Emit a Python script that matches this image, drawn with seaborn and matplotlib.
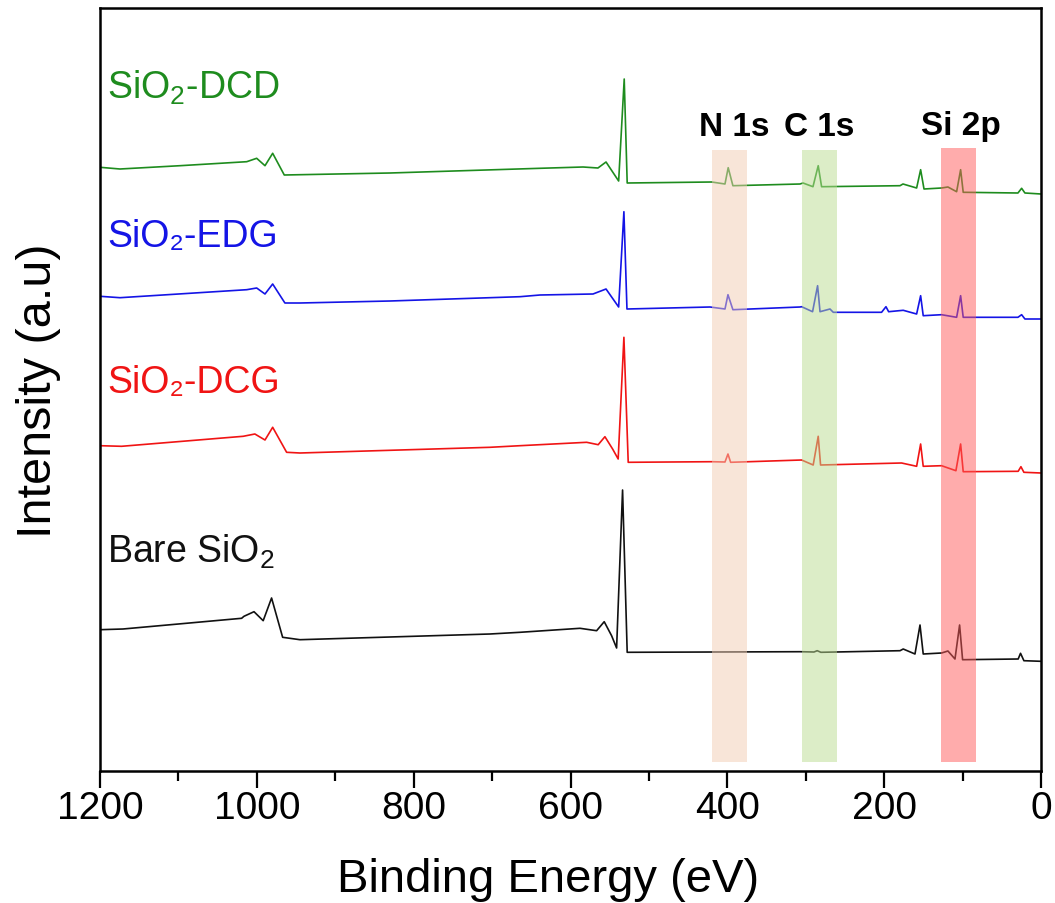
import numpy as np
import pandas as pd
import matplotlib
matplotlib.use("Agg")
import matplotlib.pyplot as plt
import seaborn as sns

# ---------------- data ----------------
samples = ["SiO2-DCD", "SiO2-EDG", "SiO2-DCG", "Bare SiO2"]
sample_labels = [r"SiO$_\mathregular{2}$-DCD", "SiO\u2082-EDG", "SiO\u2082-DCG", r"Bare SiO$_\mathregular{2}$"]
sample_colors = ["#1E8C1E", "#1414E6", "#F01414", "#111111"]
label_levels = [673, 525, 379, 209]

dcd_energy = [1200, 1174.5, 1098, 1012.9, 1000.2, 989.6, 979.8, 965, 945, 830.2, 638.9, 584, 565,
              554.7, 538.6, 531.5, 527.7, 420, 403, 398.9, 392.9, 307.3, 303.5, 290.8, 284.1, 279.8,
              179.8, 176, 158.6, 153.5, 149.2, 126.8, 118.7, 107.6, 102.5, 99.2, 29.4, 24.7, 20.5, 0]
dcd_intensity = [603.7, 602, 605.3, 609.3, 612.7, 605.3, 617.7, 596, 596.3, 598, 602.7, 604, 603,
                 609, 590, 692, 588, 589, 587, 603.3, 585.3, 587, 588, 584.3, 605.3, 584.3,
                 585.3, 587, 583, 601.3, 582, 583, 584, 579.3, 601.3, 578.7, 578, 582.7, 578, 577]

edg_energy = [1200, 1174.5, 1012.9, 1000.2, 989.6, 979.8, 964.2, 945, 830.2, 664.4, 638.9, 571.3,
              554.7, 538.6, 531.9, 528, 422.1, 403, 399.2, 392.9, 307.3, 305.3, 291.3, 284.9, 281.8,
              269.1, 264.9, 203.3, 197.7, 194.3, 175.7, 158.6, 153.5, 150.2, 126.8, 107.6, 102.5,
              99.2, 29.4, 24.7, 20.5, 0]
edg_intensity = [474.7, 473.3, 481.3, 483, 477, 487, 468, 468, 470, 474.3, 476, 477,
                 482, 464, 559.3, 462, 464, 462, 476.3, 461.3, 464, 464.3, 459.3, 485.3, 459.3,
                 462, 458.7, 458.7, 464.3, 459.3, 460.7, 457, 475.3, 455.3, 456.3, 453.7, 475.3,
                 453.7, 453.7, 456.3, 452, 452]

dcg_energy = [1200, 1172.5, 1017.4, 1002.5, 989.6, 979.8, 962, 945, 702.7, 664.4, 579.4, 564.7,
              556.1, 546.3, 539.2, 531.9, 526.4, 420, 403, 399.2, 395.8, 305.3, 290.5, 284.1, 281.1,
              177.8, 158.6, 153.5, 150.2, 126.8, 108.5, 102.5, 99.2, 29.1, 25.6, 21.8, 0]
dcg_intensity = [325.3, 324.7, 334.7, 337, 331, 343.7, 318.7, 318, 323.7, 325.3, 328.7, 326.3,
                 334.3, 322, 312, 433.7, 308.7, 309.3, 309, 317, 308.7, 311, 306, 334.7, 306,
                 308, 304.7, 327, 304.7, 305.3, 300.3, 327, 299.3, 299.7, 304.3, 298.7, 298]

bare_energy = [1200, 1170.7, 1019.4, 1016.4, 1003.6, 991.9, 981.2, 967.1, 945, 702.7, 664.4, 587.9,
               566.7, 557, 547.6, 541.2, 533.6, 527.7, 307.3, 289.5, 285.4, 280.7, 179.8, 175.7,
               160.7, 154.3, 150.2, 126.8, 118.7, 109.7, 103.8, 100, 29.1, 26.1, 21.8, 0]
bare_intensity = [141.3, 142, 152.7, 154.7, 159.3, 150.3, 173, 133.7, 131.3, 137, 138.7, 142.7,
                  140.3, 149.3, 135.3, 123, 281, 118.7, 119.3, 119, 120.3, 118.7, 120.3, 122,
                  117, 146, 117, 118, 120, 112, 146, 111.3, 112, 117.7, 110.3, 109.7]

peak_names = ["N 1s", "C 1s", "Si 2p"]
peak_label_energy = [391.5, 283, 102]
band_low = [375, 260.5, 83.5]
band_high = [420, 304.5, 127]
band_colors = ["#F3CDB3", "#BBDD91", "#FF5B5B"]

# ---------------- build long-form table ----------------
energies = [dcd_energy, edg_energy, dcg_energy, bare_energy]
intens = [dcd_intensity, edg_intensity, dcg_intensity, bare_intensity]
frames = []
for name, e, i in zip(samples, energies, intens):
    frames.append(pd.DataFrame({"Energy": e, "Intensity": i, "Sample": name}))
df = pd.concat(frames, ignore_index=True)

# ---------------- style ----------------
sns.set_style("ticks")
regular = ["Liberation Sans", "DejaVu Sans"]
plt.rcParams["font.family"] = regular
plt.rcParams["mathtext.fontset"] = "custom"
plt.rcParams["mathtext.rm"] = "Liberation Sans"

fig = plt.figure(figsize=(10.55, 9.04), dpi=100)
ax = fig.add_axes([100 / 1055, (904 - 772) / 904, 941 / 1055, 763 / 904])

sns.lineplot(data=df, x="Energy", y="Intensity", hue="Sample", palette=dict(zip(samples, sample_colors)),
             estimator=None, sort=True, legend=False, linewidth=1.2, ax=ax, zorder=2)

ax.set_xlim(1200, 0)
ax.set_ylim(0, 763)

# highlight bands (drawn over the curves, semi-transparent)
band_ytop = [0.814, 0.814, 0.816]
for lo, hi, c, yt in zip(band_low, band_high, band_colors, band_ytop):
    ax.axvspan(lo, hi, ymin=0.012, ymax=yt, color=c, alpha=0.5, lw=0, zorder=3)

for name, xe in zip(peak_names, peak_label_energy):
    ax.text(xe, 645, name, ha="center", va="center", fontsize=24, fontweight="bold",
            color="black", zorder=4)

for lab, col, lev in zip(sample_labels, sample_colors, label_levels):
    ax.text(1190.5, lev, lab, ha="left", va="baseline", fontsize=27, color=col, zorder=4)

ax.set_xticks(np.arange(0, 1201, 200))
ax.set_xticks(np.arange(100, 1200, 200), minor=True)
ax.set_yticks([])
ax.tick_params(axis="x", which="major", direction="out", length=12, width=1.6, labelsize=28,
               pad=2, colors="black")
ax.tick_params(axis="x", which="minor", direction="out", length=7, width=1.6, colors="black")
for s in ax.spines.values():
    s.set_visible(True)
    s.set_linewidth(1.8)
    s.set_color("black")

ax.set_xlabel("Binding Energy (eV)", fontsize=34, color="black")
ax.xaxis.set_label_coords(0.476, -0.113)
ax.set_ylabel("Intensity (a.u)", fontsize=35, labelpad=28, color="black")

fig.savefig("out.png", dpi=100)
